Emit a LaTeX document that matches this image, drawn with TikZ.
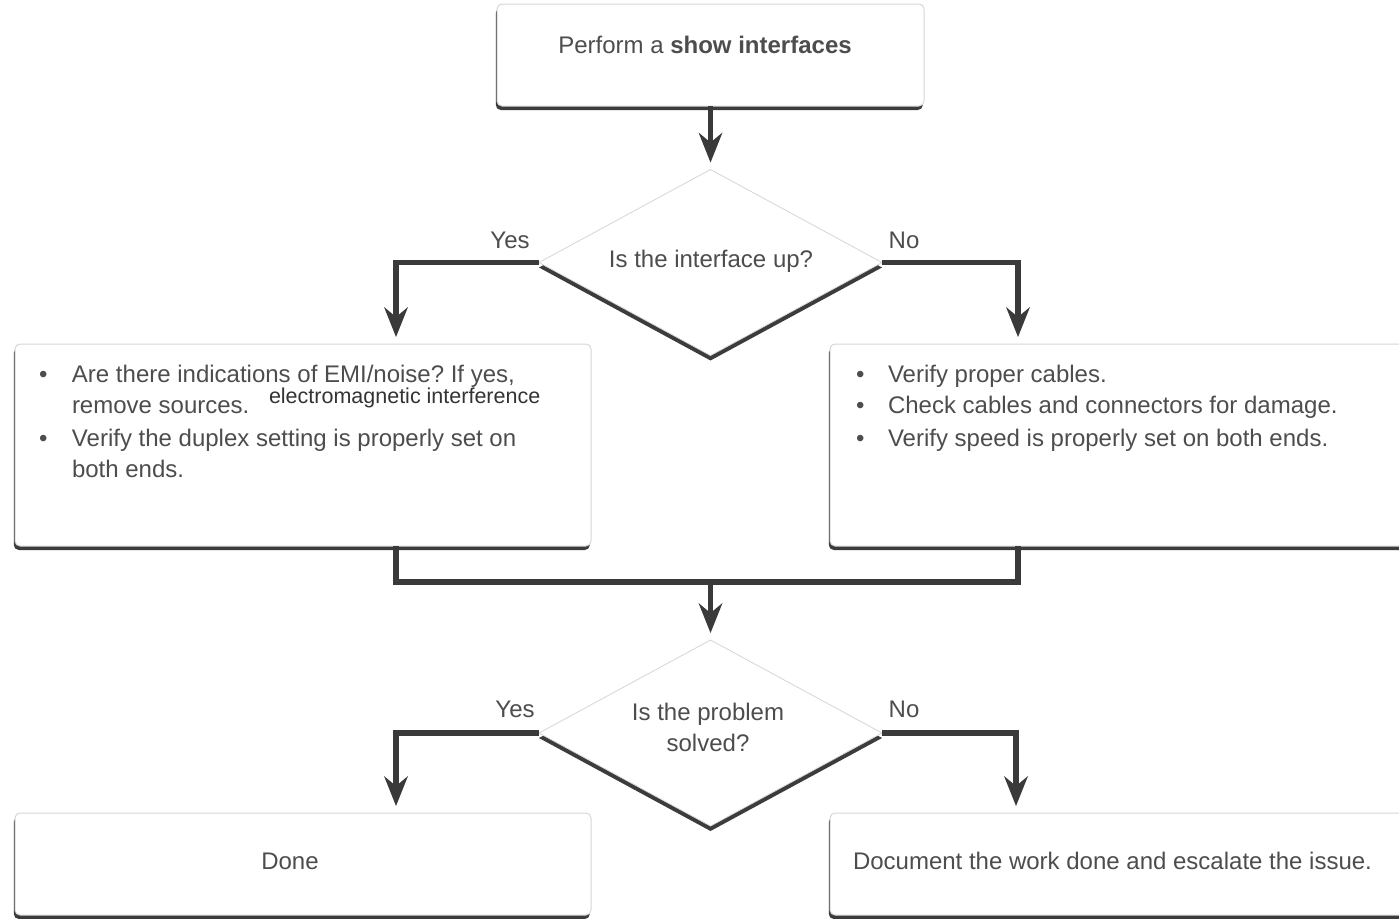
\documentclass[tikz,border=0pt]{standalone}
\usepackage{fontspec}
\setmainfont{Liberation Sans}
\usetikzlibrary{shapes.geometric,shadows,arrows.meta}
\definecolor{ink}{HTML}{4D4D4D}
\definecolor{inkdark}{HTML}{333333}
\definecolor{wire}{HTML}{3A3A3A}
\definecolor{rim}{HTML}{D6D6D6}
\definecolor{shade}{HTML}{3C3C3C}
\frenchspacing
\begin{document}
\begin{tikzpicture}[x=1pt,y=-1pt,
  every node/.style={inner sep=0pt, outer sep=0pt, text=ink,
    font=\fontsize{24}{31}\selectfont},
  card/.style={draw=rim, line width=1pt, fill=white, rounded corners=5pt,
    minimum width=576pt, minimum height=202pt,
    general shadow={fill=shade, shadow yshift=-4pt, shadow xshift=-1.2pt}},
  decision/.style={diamond, draw=rim, line width=0.8pt, fill=white,
    minimum width=343pt, minimum height=186pt,
    general shadow={fill=shade, shadow yshift=-5pt}},
  flow/.style={draw=wire, line width=5.5pt},
  tip/.style={flow, shorten >=7pt,
    -{Stealth[length=30pt, width=24pt, inset=10pt, line width=0pt]}},
  answer/.style={anchor=base}
]
\useasboundingbox (0,0) rectangle (1399,918);
\fill[white] (0,0) rectangle (1399,918);
\clip (0,0) rectangle (1399,918);

% boxes
\node[card, minimum width=427pt, minimum height=102pt] (top) at (710.5,55) {};
\node[card] (lbox) at (303,445) {};
\node[card] (rbox) at (1118,445) {};
\node[card, minimum height=102pt] (done) at (303,864) {};
\node[card, minimum height=102pt] (esc) at (1118,864) {};

% decisions
\node[decision] (q1) at (710.5,262.5) {};
\node[decision] (q2) at (710.5,733) {};

% texts
\node[anchor=base] (topt) at (705,53) {Perform a \textbf{show interfaces}};
\node[anchor=base] (q1t) at (711,267) {Is the interface up?};
\node[anchor=base, align=center] (q2t) at (708,751) {Is the problem\\solved?};
\node[answer] (y1) at (510,248) {Yes};
\node[answer] (n1) at (904,248) {No};
\node[answer] (y2) at (515,717) {Yes};
\node[answer] (n2) at (904,717) {No};

\node[anchor=base west] (ll) at (39,382) {%
  \begin{tabular}[t]{@{}l@{}}
  \makebox[33pt][l]{\textbullet}Are there indications of EMI/noise? If yes,\\
  \hspace*{33pt}remove sources.\\[2pt]
  \makebox[33pt][l]{\textbullet}Verify the duplex setting is properly set on\\
  \hspace*{33pt}both ends.
  \end{tabular}};
\node[anchor=base west, text=inkdark, font=\fontsize{21.5}{26}\selectfont]
  (emi) at (269,403) {electromagnetic interference};

\node[anchor=base west] (rl) at (856,382) {%
  \begin{tabular}[t]{@{}l@{}}
  \makebox[32pt][l]{\textbullet}Verify proper cables.\\
  \makebox[32pt][l]{\textbullet}Check cables and connectors for damage.\\[2pt]
  \makebox[32pt][l]{\textbullet}Verify speed is properly set on both ends.
  \end{tabular}};

\node[anchor=base] (donet) at (290,869) {Done};
\node[anchor=base west] (esct) at (853,869) {Document the work done and escalate the issue.};

% connectors
\coordinate (join) at (710.5,582);
\draw[tip] (top.south) -- (q1.north);
\draw[tip] (q1.west) -| ([xshift=93pt]lbox.north);
\draw[tip] (q1.east) -| ([xshift=-100pt]rbox.north);
\draw[flow] ([xshift=93pt]lbox.south) |- (join) -| ([xshift=-100pt]rbox.south);
\draw[tip] (join) -- (q2.north);
\draw[tip] (q2.west) -| ([xshift=93pt]done.north);
\draw[tip] (q2.east) -| ([xshift=-102pt]esc.north);
\end{tikzpicture}
\end{document}
